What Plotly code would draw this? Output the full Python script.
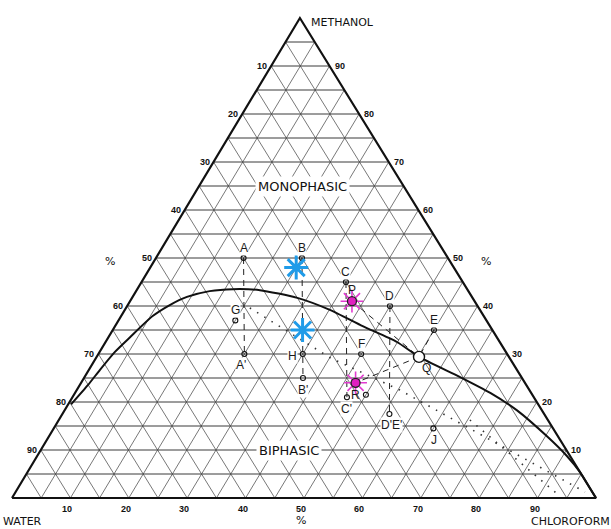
import numpy as np
import plotly.graph_objects as go

# ---- composition data (percent by weight) ----------------------------------
# Grid spacing and tick labels
grid_steps = list(range(5, 100, 5))
tick_values = [10, 20, 30, 40, 50, 60, 70, 80, 90]

# Binodal (phase boundary) curve: methanol %, chloroform %
binodal_meth = [19.5, 23.5, 26.7, 30.4, 33.5, 37.9, 40.2, 41.9, 43.1, 43.5,
                43.3, 41.7, 39.2, 35.8, 32.5, 29.4, 25.2, 21.9, 18.3, 12.9, 8.75,
                5.4, 2.1, 0.0]
binodal_chl = [0.5, 1.4, 1.9, 2.6, 3.7, 5.4, 7.2, 9.3, 12.6, 16.4,
               21.1, 28.3, 35.1, 42.4, 49.9, 55.2, 64.3, 71.1, 77.4, 85.2, 90.7,
               94.6, 97.9, 100.0]

# Mixtures marked with small open circles
pt_names = ["A", "B", "C", "D", "E", "F", "G", "H", "A'", "B'", "C'", "D'E'", "J", ""]
pt_meth = [50.0, 50.0, 45.0, 40.0, 35.0, 30.0, 37.0, 30.0, 30.0, 25.0, 21.0, 17.5, 14.5, 21.5]
pt_chl = [15.0, 25.0, 35.0, 45.0, 55.0, 45.0, 20.0, 35.0, 25.0, 37.5, 47.0, 56.0, 65.0, 50.0]
# label offsets in pixels (dx, dy)
pt_lab_dx = [0, 0, 0, 0, 0, 0, 0, -10, -3, 0, 0, 2, 1, 0]
pt_lab_dy = [10, 10, 10, 10, 10, 10, 10, -2, -11, -12, -12, -11, -12, 0]

# Point on the boundary
q_meth, q_chl = 29.4, 55.2

# Highlighted mixtures
mag_names = ["P", "R"]
mag_meth = [41.0, 24.0]
mag_chl = [38.0, 47.0]
blue_meth = [48.0, 35.0]
blue_chl = [25.0, 32.5]

# Dilution paths (dashed)
dash_paths = [
    ([50.0, 30.0], [15.0, 25.0]),      # A -> A'
    ([50.0, 25.0], [25.0, 37.5]),      # B -> B'
    ([45.0, 21.0], [35.0, 47.0]),      # C -> C'
    ([40.0, 17.5], [45.0, 56.0]),      # D -> D'
    ([35.0, 29.4], [55.0, 55.2]),      # E -> Q
    ([41.0, 29.4], [38.0, 55.2]),      # P -> Q
    ([29.4, 24.0], [55.2, 47.0]),      # Q -> R
]
# Tie lines (dotted)
dot_paths = [
    ([39.6, 29.2, 22.5, 1.25], [21.2, 40.1, 55.3, 97.5]),
    ([16.25, 0.4], [70.4, 93.6]),
]

# ---- geometry helpers -------------------------------------------------------
APEX_X = 0.493  # horizontal position of the methanol apex along the base


def to_xy(meth, chl):
    m = np.asarray(meth, float) / 100.0
    c = np.asarray(chl, float) / 100.0
    return c + APEX_X * m, m


def segs(pairs):
    xs, ys = [], []
    for (m0, c0), (m1, c1) in pairs:
        x, y = to_xy([m0, m1], [c0, c1])
        xs += list(x) + [None]
        ys += list(y) + [None]
    return xs, ys


fig = go.Figure()

# grid: constant methanol (horizontal), constant chloroform, constant water
h_pairs = [((v, 0), (v, 100 - v)) for v in grid_steps]
d_pairs = [((0, v), (100 - v, v)) for v in grid_steps] + \
          [((0, 100 - v), (100 - v, 0)) for v in grid_steps]
hx, hy = segs(h_pairs)
dx, dy = segs(d_pairs)
fig.add_trace(go.Scatter(x=dx, y=dy, mode="lines", line=dict(color="#555", width=0.8),
                         hoverinfo="skip", showlegend=False))
fig.add_trace(go.Scatter(x=hx, y=hy, mode="lines", line=dict(color="#3a3a3a", width=1.0),
                         hoverinfo="skip", showlegend=False))

# triangle outline
tx, ty = to_xy([0, 0, 100, 0], [0, 100, 0, 0])
fig.add_trace(go.Scatter(x=tx, y=ty, mode="lines", line=dict(color="#111", width=2.2),
                         hoverinfo="skip", showlegend=False))

# dilution paths and tie lines
for pm, pc in dash_paths:
    x, y = to_xy(pm, pc)
    fig.add_trace(go.Scatter(x=x, y=y, mode="lines",
                             line=dict(color="#222", width=1, dash="6px,5px"),
                             hoverinfo="skip", showlegend=False))
for pm, pc in dot_paths:
    x, y = to_xy(pm, pc)
    fig.add_trace(go.Scatter(x=x, y=y, mode="lines",
                             line=dict(color="#333", width=1.6, dash="1.5px,7px"),
                             hoverinfo="skip", showlegend=False))

# binodal curve
bx, by = to_xy(binodal_meth, binodal_chl)
fig.add_trace(go.Scatter(x=bx, y=by, mode="lines",
                         line=dict(color="#111", width=2, shape="spline", smoothing=0.6),
                         hoverinfo="skip", showlegend=False))

# mixture points
px_, py_ = to_xy(pt_meth, pt_chl)
fig.add_trace(go.Scatter(x=px_, y=py_, mode="markers",
                         marker=dict(symbol="circle-open", size=5, color="#111", line=dict(width=1.1)),
                         hoverinfo="skip", showlegend=False))
qx, qy = to_xy([q_meth], [q_chl])
fig.add_trace(go.Scatter(x=qx, y=qy, mode="markers",
                         marker=dict(symbol="circle", size=11, color="white", line=dict(width=1.4, color="#111")),
                         hoverinfo="skip", showlegend=False))

# highlighted marks
blx, bly = to_xy(blue_meth, blue_chl)
fig.add_trace(go.Scatter(x=blx, y=bly, mode="markers",
                         marker=dict(symbol="asterisk-open", size=20, color="#1f9be8",
                                     line=dict(width=3, color="#1f9be8")),
                         hoverinfo="skip", showlegend=False))
mx, my = to_xy(mag_meth, mag_chl)
fig.add_trace(go.Scatter(x=mx, y=my, mode="markers",
                         marker=dict(symbol="asterisk-open", size=19, color="#e23ad0",
                                     line=dict(width=1.6, color="#e23ad0")),
                         hoverinfo="skip", showlegend=False))
fig.add_trace(go.Scatter(x=mx, y=my, mode="markers",
                         marker=dict(symbol="circle", size=9, color="#e020c0", line=dict(width=1.3, color="#222")),
                         hoverinfo="skip", showlegend=False))

ann = []
lab_font = dict(family="Liberation Sans, Arial, sans-serif", size=12, color="#1a1a1a")
for n, m, c, ox, oy in zip(pt_names, pt_meth, pt_chl, pt_lab_dx, pt_lab_dy):
    if not n:
        continue
    x, y = to_xy([m], [c])
    ann.append(dict(x=x[0], y=y[0], text=n, showarrow=False, xshift=ox, yshift=oy,
                    font=lab_font, bgcolor="white", borderpad=0))
x, y = to_xy([q_meth], [q_chl])
ann.append(dict(x=x[0], y=y[0], text="Q", showarrow=False, xshift=7, yshift=-11, font=lab_font))
for n, m, c, oy in zip(mag_names, mag_meth, mag_chl, [11, -12]):
    x, y = to_xy([m], [c])
    ann.append(dict(x=x[0], y=y[0], text=n, showarrow=False, yshift=oy, font=lab_font))

# axis tick labels
tick_font = dict(family="Liberation Sans, Arial, sans-serif", size=9, color="#111", weight="bold")
for v in tick_values:
    x, y = to_xy([100 - v], [0])      # left edge: water %
    ann.append(dict(x=x[0], y=y[0], text=str(v), showarrow=False, xanchor="right", yanchor="middle",
                    xshift=-2, font=tick_font))
    x, y = to_xy([v], [100 - v])      # right edge: methanol %
    ann.append(dict(x=x[0], y=y[0], text=str(v), showarrow=False, xanchor="left", yanchor="middle",
                    xshift=3, font=tick_font))
    x, y = to_xy([0], [v])            # base: chloroform %
    ann.append(dict(x=x[0], y=y[0], text=str(v), showarrow=False, xanchor="center", yanchor="top",
                    xshift=-3, yshift=-4, font=tick_font))

name_font = dict(family="DejaVu Sans, sans-serif", size=11, color="#111")
ax_, ay_ = to_xy([100], [0])
ann.append(dict(x=ax_[0], y=ay_[0], text="METHANOL", showarrow=False, xanchor="left", yanchor="middle",
                xshift=9, yshift=-4, font=name_font))
wx, wy = to_xy([0], [0])
ann.append(dict(x=wx[0], y=wy[0], text="WATER", showarrow=False, xanchor="left", yanchor="top",
                xshift=-11, yshift=-15, font=name_font))
cx, cy = to_xy([0], [100])
ann.append(dict(x=cx[0], y=cy[0], text="CHLOROFORM", showarrow=False, xanchor="right", yanchor="top",
                xshift=16, yshift=-15, font=name_font))
# percent signs
for m, c, xs, ys in [(0, 50, -3, -22), (50, 0, -46, -3), (50, 50, 38, -3)]:
    x, y = to_xy([m], [c])
    ann.append(dict(x=x[0], y=y[0], text="%", showarrow=False, xshift=xs, yshift=ys, font=name_font))

# region labels
region_font = dict(family="DejaVu Sans, sans-serif", size=13, color="#111")
mx_, my_ = to_xy([65], [17.7])
ann.append(dict(x=mx_[0], y=my_[0], text="MONOPHASIC", showarrow=False, font=region_font,
                bgcolor="white", borderpad=2))
bx_, by_ = to_xy([10], [42.5])
ann.append(dict(x=bx_[0], y=by_[0], text="BIPHASIC", showarrow=False, font=region_font,
                bgcolor="white", borderpad=2))

fig.update_layout(
    width=611, height=529,
    margin=dict(l=0, r=0, t=0, b=0),
    paper_bgcolor="white", plot_bgcolor="white",
    annotations=ann,
    xaxis=dict(range=[-12 / 584, 599 / 584], visible=False, fixedrange=True),
    yaxis=dict(range=[-31 / 480, 498 / 480], visible=False, fixedrange=True),
    showlegend=False,
)

fig.write_html("out.html")
